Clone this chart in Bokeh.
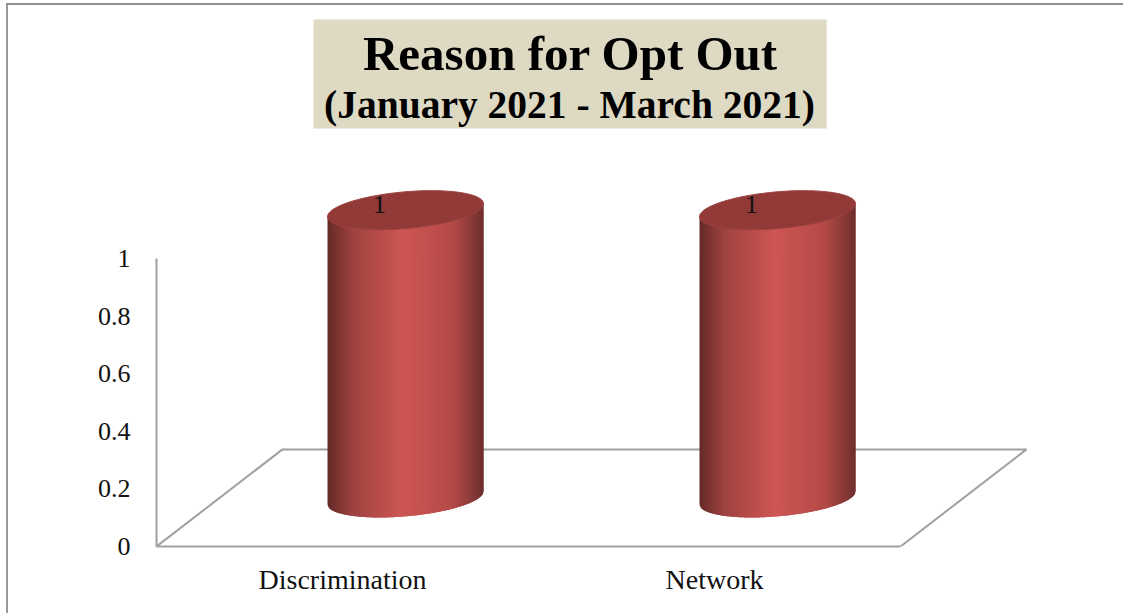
import numpy as np
from bokeh.embed import file_html
from bokeh.resources import INLINE
from bokeh.models import FixedTicker, Label, Range1d
from bokeh.plotting import figure
from bokeh.core.properties import value

categories = ["Discrimination", "Network"]
counts = [1, 1]
y_ticks = [0, 0.2, 0.4, 0.6, 0.8, 1]
y_tick_labels = ["0", "0.2", "0.4", "0.6", "0.8", "1"]
title_main = "Reason for Opt Out"
title_sub = "(January 2021 - March 2021)"

FONT = "Liberation Serif"
GREY = "#a0a0a0"
W, H = 1123, 613
X0, Y0 = 156, 545.5          # pixel position of the plot origin
UX, UY = 372, 287.5          # pixels per category / per unit of value

def dx(px): return (px - X0) / UX
def dy(py): return (Y0 - py) / UY

DEPTH_X, DEPTH_Y = 126 / UX, 97 / UY   # floor depth in data units
HALF_W = 78 / UX                       # cylinder half width
LIP = 18.4 / UY                        # ellipse half height
TILT = (6.5 / UY) / HALF_W             # slope of the ellipse axis

STOP_POS = [0.0, 0.06, 0.16, 0.36, 0.47, 0.62, 0.80, 0.92, 1.0]
STOP_RGB = [(0x63, 0x2a, 0x28), (0x7c, 0x33, 0x31), (0x9e, 0x43, 0x40), (0xbc, 0x4e, 0x4b),
            (0xcd, 0x57, 0x55), (0xc4, 0x51, 0x4f), (0xb5, 0x4a, 0x47), (0x8b, 0x3b, 0x39),
            (0x6e, 0x2e, 0x2c)]

def ramp(t):
    rgb = [int(np.interp(t, STOP_POS, [c[i] for c in STOP_RGB])) for i in range(3)]
    return "#%02x%02x%02x" % tuple(rgb)

# outer chart border: two thin lines painted behind the transparent canvas
BORDER = ("linear-gradient(#9a9a9a,#9a9a9a) 6px 4px / 2px 100% no-repeat, "
          "linear-gradient(#8f8f8f,#8f8f8f) 6px 3px / 100% 2px no-repeat, white")

p = figure(width=W, height=H, output_backend="svg", toolbar_location=None,
           x_range=Range1d(0, (W - X0) / UX), y_range=Range1d(0, Y0 / UY),
           min_border_left=X0, min_border_bottom=int(H - Y0), min_border_top=0, min_border_right=0,
           styles={"position": "absolute", "left": "0", "top": "0", "background": BORDER})
p.outline_line_color = None
p.xgrid.visible = False
p.ygrid.visible = False
p.background_fill_color = None
p.border_fill_color = None

# axes
p.yaxis.ticker = FixedTicker(ticks=y_ticks)
p.yaxis.major_label_overrides = dict(zip(y_ticks, y_tick_labels))
p.yaxis.bounds = (0, 1)
p.yaxis.axis_line_color = GREY
p.yaxis.axis_line_width = 2
p.yaxis.major_tick_line_color = None
p.yaxis.minor_tick_line_color = None
p.yaxis.major_label_standoff = 20
p.yaxis.major_label_text_font = FONT
p.yaxis.major_label_text_font_size = "26px"
p.yaxis.major_label_text_color = "#111111"

positions = [i + 0.5 for i in range(len(categories))]
p.xaxis.ticker = FixedTicker(ticks=positions)
p.xaxis.major_label_overrides = dict(zip(positions, categories))
p.xaxis.bounds = (0, len(categories))
p.xaxis.axis_line_color = GREY
p.xaxis.axis_line_width = 2
p.xaxis.major_tick_line_color = None
p.xaxis.minor_tick_line_color = None
p.xaxis.major_label_standoff = 11
p.xaxis.major_label_text_font = FONT
p.xaxis.major_label_text_font_size = "28px"
p.xaxis.major_label_text_color = "#111111"

# floor of the 3-D box
n = len(categories)
p.line([0, DEPTH_X, n + DEPTH_X, n], [0, DEPTH_Y, DEPTH_Y, 0], line_color=GREY, line_width=2)

# cylinders: vertical strips, each overlapping the next so no seams show
STRIPS = 78
edges = np.linspace(-1, 1, STRIPS + 1)
for pos, v in zip(positions, counts):
    cx = pos + DEPTH_X / 2
    base = DEPTH_Y / 2
    top = base + v
    xs, ys, cols = [], [], []
    for i in range(STRIPS):
        u = np.linspace(edges[i], edges[min(i + 2, STRIPS)], 5)
        low = base + TILT * HALF_W * u - LIP * np.sqrt(np.clip(1 - u ** 2, 0, 1))
        high = top + TILT * HALF_W * u
        xs.append(list(cx + HALF_W * u) + list(cx + HALF_W * u[::-1]))
        ys.append(list(low) + list(high[::-1]))
        cols.append(ramp((i + 0.5) / STRIPS))
    p.patches(xs, ys, fill_color=cols, line_color=None)
    t = np.linspace(0, 2 * np.pi, 120)
    ex = cx + HALF_W * np.cos(t)
    ey = top + TILT * HALF_W * np.cos(t) + LIP * np.sin(t)
    p.patch(list(ex), list(ey), fill_color="#923a38", line_color="#9c4341", line_width=1)

# data labels
p.text([pos + DEPTH_X / 2 - 26 / UX for pos in positions],
       [DEPTH_Y / 2 + v + 6 / UY for v in counts],
       text=[str(v) for v in counts], text_font=value(FONT), text_font_size="26px",
       text_color="#111111", text_align="center", text_baseline="middle")

# title block
p.quad(left=dx(313), right=dx(826), top=dy(19), bottom=dy(128),
       fill_color="#ddd9c3", line_color=None)
p.add_layout(Label(x=dx(570), y=dy(53), text=title_main, text_font=FONT, text_font_size="49px",
                   text_font_style="bold", text_color="#000000", text_align="center",
                   text_baseline="alphabetic"))
p.add_layout(Label(x=dx(569), y=dy(104), text=title_sub, text_font=FONT, text_font_size="39.5px",
                   text_font_style="bold", text_color="#000000", text_align="center",
                   text_baseline="alphabetic"))

open("out.html", "w").write(file_html(p, INLINE))
